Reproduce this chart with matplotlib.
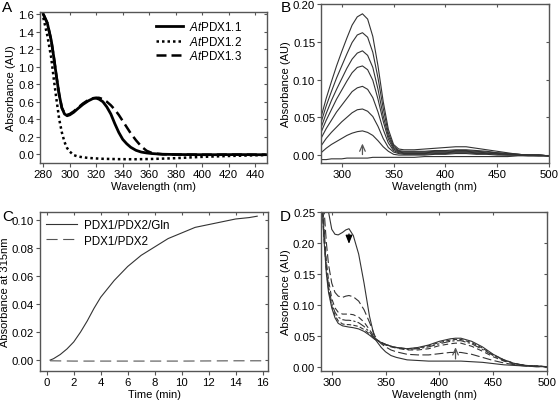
import matplotlib
matplotlib.use("Agg")
import matplotlib.pyplot as plt
import numpy as np

plt.rcParams['font.family'] = ['Liberation Sans', 'DejaVu Sans']
plt.rcParams['mathtext.fontset'] = 'custom'
plt.rcParams['mathtext.rm'] = 'Liberation Sans'
plt.rcParams['mathtext.it'] = 'Liberation Sans:italic'

# ---------------- Panel A ----------------
a_wl = [280, 283, 286, 288, 290, 292, 294, 296, 298, 300, 303, 306, 310, 314, 318, 320, 322,
        325, 328, 331, 334, 337, 340, 343, 346, 350, 354, 358, 362, 366, 370, 380, 390,
        400, 410, 420, 430, 440, 448]
a_pdx11 = [1.60, 1.50, 1.30, 1.10, 0.88, 0.68, 0.53, 0.46, 0.44, 0.45, 0.48, 0.52, 0.57, 0.61, 0.64, 0.64, 0.63,
           0.60, 0.54, 0.46, 0.35, 0.25, 0.17, 0.12, 0.08, 0.045, 0.025, 0.015, 0.008, 0.004, 0.0, -0.003, -0.004,
           -0.005, -0.005, -0.004, -0.004, -0.005, -0.005]
a_pdx12 = [1.56, 1.36, 1.10, 0.85, 0.62, 0.40, 0.25, 0.14, 0.07, 0.03, -0.01, -0.025, -0.035, -0.042, -0.046, -0.048, -0.050,
           -0.052, -0.053, -0.054, -0.055, -0.056, -0.056, -0.057, -0.057, -0.057, -0.056, -0.055, -0.054, -0.052, -0.05, -0.045, -0.037,
           -0.03, -0.025, -0.02, -0.016, -0.012, -0.01]
a_pdx13 = [1.60, 1.50, 1.30, 1.10, 0.88, 0.68, 0.53, 0.47, 0.45, 0.46, 0.49, 0.53, 0.58, 0.62, 0.64, 0.645, 0.645,
           0.63, 0.60, 0.56, 0.51, 0.45, 0.38, 0.31, 0.24, 0.16, 0.09, 0.04, 0.015, 0.005, 0.0, -0.003, -0.004,
           -0.005, -0.005, -0.004, -0.004, -0.005, -0.005]
a_labels = [r'$\mathit{At}$PDX1.1', r'$\mathit{At}$PDX1.2', r'$\mathit{At}$PDX1.3']

# ---------------- Panel B ----------------
b_wl = [280, 285, 290, 295, 300, 305, 310, 315, 320, 325, 330, 335, 340, 345, 350, 355, 360,
        370, 380, 390, 400, 410, 420, 430, 440, 450, 460, 470, 480, 490, 500]
b_s1 = [0.050, 0.075, 0.097, 0.118, 0.137, 0.155, 0.172, 0.183, 0.187, 0.180, 0.157, 0.118, 0.071, 0.034, 0.014, 0.008, 0.007,
        0.007, 0.008, 0.009, 0.010, 0.011, 0.011, 0.009, 0.007, 0.005, 0.003, 0.001, 0.000, 0.000, -0.001]
b_s2 = [0.043, 0.065, 0.084, 0.102, 0.118, 0.134, 0.149, 0.159, 0.162, 0.156, 0.136, 0.102, 0.062, 0.029, 0.012, 0.006, 0.005,
        0.005, 0.005, 0.006, 0.006, 0.007, 0.007, 0.006, 0.005, 0.003, 0.002, 0.001, 0.000, 0.000, -0.001]
b_s3 = [0.036, 0.055, 0.072, 0.087, 0.101, 0.115, 0.127, 0.135, 0.138, 0.132, 0.116, 0.087, 0.052, 0.025, 0.010, 0.005, 0.004,
        0.004, 0.004, 0.005, 0.005, 0.006, 0.006, 0.005, 0.004, 0.003, 0.002, 0.001, 0.000, 0.000, -0.001]
b_s4 = [0.030, 0.046, 0.060, 0.074, 0.086, 0.098, 0.109, 0.116, 0.118, 0.113, 0.099, 0.074, 0.045, 0.021, 0.008, 0.004, 0.003,
        0.003, 0.003, 0.004, 0.004, 0.005, 0.005, 0.004, 0.003, 0.002, 0.001, 0.001, 0.000, 0.000, -0.001]
b_s5 = [0.022, 0.035, 0.046, 0.057, 0.066, 0.075, 0.084, 0.089, 0.091, 0.087, 0.076, 0.057, 0.034, 0.016, 0.006, 0.003, 0.002,
        0.002, 0.002, 0.003, 0.003, 0.004, 0.004, 0.003, 0.002, 0.002, 0.001, 0.000, 0.000, 0.000, -0.001]
b_s6 = [0.012, 0.022, 0.030, 0.037, 0.044, 0.050, 0.056, 0.060, 0.061, 0.058, 0.051, 0.038, 0.022, 0.010, 0.004, 0.002, 0.001,
        0.001, 0.001, 0.002, 0.002, 0.003, 0.003, 0.002, 0.002, 0.001, 0.000, 0.000, 0.000, -0.001, -0.001]
b_s7 = [0.003, 0.009, 0.014, 0.018, 0.022, 0.026, 0.029, 0.031, 0.032, 0.030, 0.026, 0.019, 0.011, 0.005, 0.001, 0.000, 0.000,
        0.000, 0.000, 0.001, 0.001, 0.002, 0.002, 0.001, 0.001, 0.000, 0.000, 0.000, -0.001, -0.001, -0.001]
b_s8 = [-0.006, -0.006, -0.005, -0.005, -0.005, -0.004, -0.004, -0.004, -0.004, -0.004, -0.003, -0.003, -0.003, -0.003, -0.003, -0.003, -0.003,
        -0.003, -0.002, -0.002, -0.002, -0.002, -0.002, -0.002, -0.002, -0.002, -0.002, -0.001, -0.001, -0.001, -0.001]
b_series = [b_s1, b_s2, b_s3, b_s4, b_s5, b_s6, b_s7, b_s8]

# ---------------- Panel C ----------------
c_time = [0.25, 0.5, 1, 1.5, 2, 2.5, 3, 3.5, 4, 5, 6, 7, 8, 9, 10, 11, 12, 13, 14, 15, 15.6]
c_gln = [0.0, 0.001, 0.004, 0.008, 0.013, 0.020, 0.028, 0.037, 0.045, 0.057, 0.067, 0.075, 0.081, 0.087, 0.091,
         0.095, 0.097, 0.099, 0.101, 0.102, 0.103]
c_time2 = [0.25, 2, 4, 6, 8, 10, 12, 14, 16]
c_nogln = [-0.0005, -0.0007, -0.0007, -0.0007, -0.0007, -0.0007, -0.0006, -0.0005, -0.0005]
c_labels = ['PDX1/PDX2/Gln', 'PDX1/PDX2']

# ---------------- Panel D ----------------
d_wl = [291, 293, 295, 297, 300, 303, 306, 310, 313, 316, 320, 325, 330, 335, 340, 343, 346, 350, 355, 360,
        370, 380, 390, 400, 410, 415, 420, 430, 440, 450, 460, 470, 480, 490, 500]
d_s1 = [0.40, 0.32, 0.28, 0.25, 0.222, 0.214, 0.213, 0.217, 0.221, 0.223, 0.212, 0.182, 0.135, 0.082, 0.045, 0.038, 0.031, 0.024, 0.018, 0.015,
        0.011, 0.010, 0.009, 0.009, 0.009, 0.009, 0.009, 0.008, 0.007, 0.005, 0.003, 0.002, 0.001, 0.000, 0.000]
d_s2 = [0.30, 0.25, 0.20, 0.165, 0.135, 0.120, 0.114, 0.112, 0.114, 0.115, 0.113, 0.106, 0.092, 0.072, 0.050, 0.042, 0.037, 0.032, 0.027, 0.024,
        0.020, 0.019, 0.019, 0.021, 0.023, 0.023, 0.023, 0.020, 0.015, 0.010, 0.006, 0.003, 0.001, 0.000, 0.000]
d_s3 = [0.28, 0.22, 0.17, 0.14, 0.11, 0.095, 0.088, 0.085, 0.085, 0.085, 0.084, 0.080, 0.072, 0.060, 0.047, 0.042, 0.038, 0.035, 0.032, 0.030,
        0.027, 0.027, 0.029, 0.034, 0.037, 0.038, 0.038, 0.033, 0.025, 0.016, 0.009, 0.004, 0.002, 0.001, 0.000]
d_s4 = [0.27, 0.21, 0.16, 0.13, 0.102, 0.088, 0.080, 0.076, 0.075, 0.075, 0.074, 0.071, 0.065, 0.056, 0.046, 0.042, 0.039, 0.036, 0.033, 0.031,
        0.028, 0.029, 0.032, 0.037, 0.041, 0.042, 0.042, 0.037, 0.028, 0.018, 0.010, 0.005, 0.002, 0.001, 0.000]
d_s5 = [0.26, 0.20, 0.155, 0.125, 0.098, 0.083, 0.074, 0.069, 0.068, 0.068, 0.067, 0.065, 0.060, 0.053, 0.045, 0.042, 0.039, 0.036, 0.033, 0.031,
        0.029, 0.030, 0.034, 0.039, 0.043, 0.044, 0.044, 0.039, 0.030, 0.019, 0.011, 0.005, 0.002, 0.001, 0.000]
d_s6 = [0.26, 0.20, 0.15, 0.12, 0.095, 0.079, 0.070, 0.066, 0.065, 0.064, 0.063, 0.061, 0.057, 0.051, 0.044, 0.042, 0.039, 0.036, 0.033, 0.031,
        0.029, 0.031, 0.035, 0.041, 0.045, 0.046, 0.046, 0.041, 0.032, 0.020, 0.011, 0.005, 0.002, 0.001, 0.000]
d_series = [d_s1, d_s2, d_s3, d_s4, d_s5, d_s6]

# ---------------- Figure ----------------
W, H = 558, 402
fig = plt.figure(figsize=(W / 100, H / 100), dpi=100)

def box(l, r, t, b):
    return [l / W, 1 - b / H, (r - l) / W, (b - t) / H]

spine_col = '#555555'
tick_fs = 8.2
lab_fs = 8.0

def style(ax, xlim, ylim, xticks, yticks, xfmt, yfmt):
    ax.set_xlim(*xlim)
    ax.set_ylim(*ylim)
    ax.set_xticks(xticks)
    ax.set_yticks(yticks)
    ax.set_xticklabels([xfmt.format(v) for v in xticks], fontsize=tick_fs)
    ax.set_yticklabels([yfmt.format(v) for v in yticks], fontsize=tick_fs)
    for s in ax.spines.values():
        s.set_color(spine_col)
        s.set_linewidth(1.0)
    ax.tick_params(direction='out', length=3, width=0.8, color=spine_col)
    ax.tick_params(axis='x', pad=1.5)
    ax.tick_params(axis='y', pad=1.2)
    top = ax.secondary_xaxis('top')
    top.set_xticks(xticks)
    top.tick_params(direction='in', length=2, width=0.8, color=spine_col, labeltop=False)
    top.spines['top'].set_visible(False)
    right = ax.secondary_yaxis('right')
    right.set_yticks(yticks)
    right.tick_params(direction='in', length=2, width=0.8, color=spine_col, labelright=False)
    right.spines['right'].set_visible(False)

# A
axA = fig.add_axes(box(40, 267, 13, 164))
axA.plot(a_wl, a_pdx11, color='black', lw=2.0, ls='-', label=a_labels[0])
axA.plot(a_wl, a_pdx12, color='black', lw=1.8, ls=(0, (1, 1.2)), label=a_labels[1])
axA.plot(a_wl, a_pdx13, color='black', lw=1.8, ls=(0, (4, 2)), label=a_labels[2])
style(axA, (277.5, 449), (-0.1, 1.625), list(range(280, 441, 20)), [0.0, 0.2, 0.4, 0.6, 0.8, 1.0, 1.2, 1.4, 1.6],
      '{:d}', '{:.1f}')
axA.set_xlabel('Wavelength (nm)', fontsize=lab_fs, labelpad=1)
axA.set_ylabel('Absorbance (AU)', fontsize=lab_fs, labelpad=1.5)
axA.legend(loc='upper right', frameon=False, fontsize=8.4, handlelength=2.3, handletextpad=0.5,
           labelspacing=0.12, bbox_to_anchor=(0.91, 0.975), borderaxespad=0)

# B
axB = fig.add_axes(box(321, 549, 5, 164))
for s in b_series:
    axB.plot(b_wl, s, color='#333333', lw=0.8)
axB.annotate('', xy=(320, 0.019), xytext=(320, -0.003),
             arrowprops=dict(arrowstyle='->,head_length=0.45,head_width=0.2', color='#555555', lw=0.9))
style(axB, (280, 500), (-0.0105, 0.2), [300, 350, 400, 450, 500], [0.0, 0.05, 0.10, 0.15, 0.20],
      '{:d}', '{:.2f}')
axB.set_xlabel('Wavelength (nm)', fontsize=lab_fs, labelpad=1)
axB.set_ylabel('Absorbance (AU)', fontsize=lab_fs, labelpad=1.5)

# C
axC = fig.add_axes(box(40, 268, 213, 372))
axC.plot(c_time, c_gln, color='#333333', lw=0.8, label=c_labels[0])
axC.plot(c_time2, c_nogln, color='#555555', lw=0.8, ls=(0, (10, 5)), label=c_labels[1])
style(axC, (-0.5, 16.4), (-0.0078, 0.106), list(range(0, 17, 2)), [0.0, 0.02, 0.04, 0.06, 0.08, 0.10],
      '{:d}', '{:.2f}')
axC.set_xlabel('Time (min)', fontsize=lab_fs, labelpad=1)
axC.set_ylabel('Absorbance at 315nm', fontsize=lab_fs, labelpad=1.5)
axC.legend(loc='upper left', frameon=False, fontsize=8.4, handlelength=2.7, handletextpad=0.55,
           labelspacing=0.3, bbox_to_anchor=(0.005, 0.985), borderaxespad=0)

# D
axD = fig.add_axes(box(321, 547, 213, 372))
d_styles = ['-', (0, (8, 3)), (0, (5, 3)), (0, (8, 2, 2, 2)), (0, (4, 2)), '-']
for s, st in zip(d_series, d_styles):
    axD.plot(d_wl, s, color='#333333', lw=0.8, ls=st)
axD.annotate('', xy=(316, 0.194), xytext=(316, 0.219),
             arrowprops=dict(arrowstyle='-|>,head_length=0.5,head_width=0.2', color='black', lw=0.9))
axD.annotate('', xy=(415, 0.036), xytext=(415, 0.008),
             arrowprops=dict(arrowstyle='->,head_length=0.45,head_width=0.2', color='#555555', lw=0.9))
style(axD, (290, 500), (-0.007, 0.25), [300, 350, 400, 450, 500], [0.0, 0.05, 0.10, 0.15, 0.20, 0.25],
      '{:d}', '{:.2f}')
axD.set_xlabel('Wavelength (nm)', fontsize=lab_fs, labelpad=1)
axD.set_ylabel('Absorbance (AU)', fontsize=lab_fs, labelpad=1.5)

# panel letters
for txt, x, y in [('A', 2, 1), ('B', 281, 1), ('C', 2, 210), ('D', 280, 210)]:
    fig.text(x / W, 1 - y / H, txt, fontsize=11, va='top', ha='left')

fig.savefig('out.png', dpi=100)
